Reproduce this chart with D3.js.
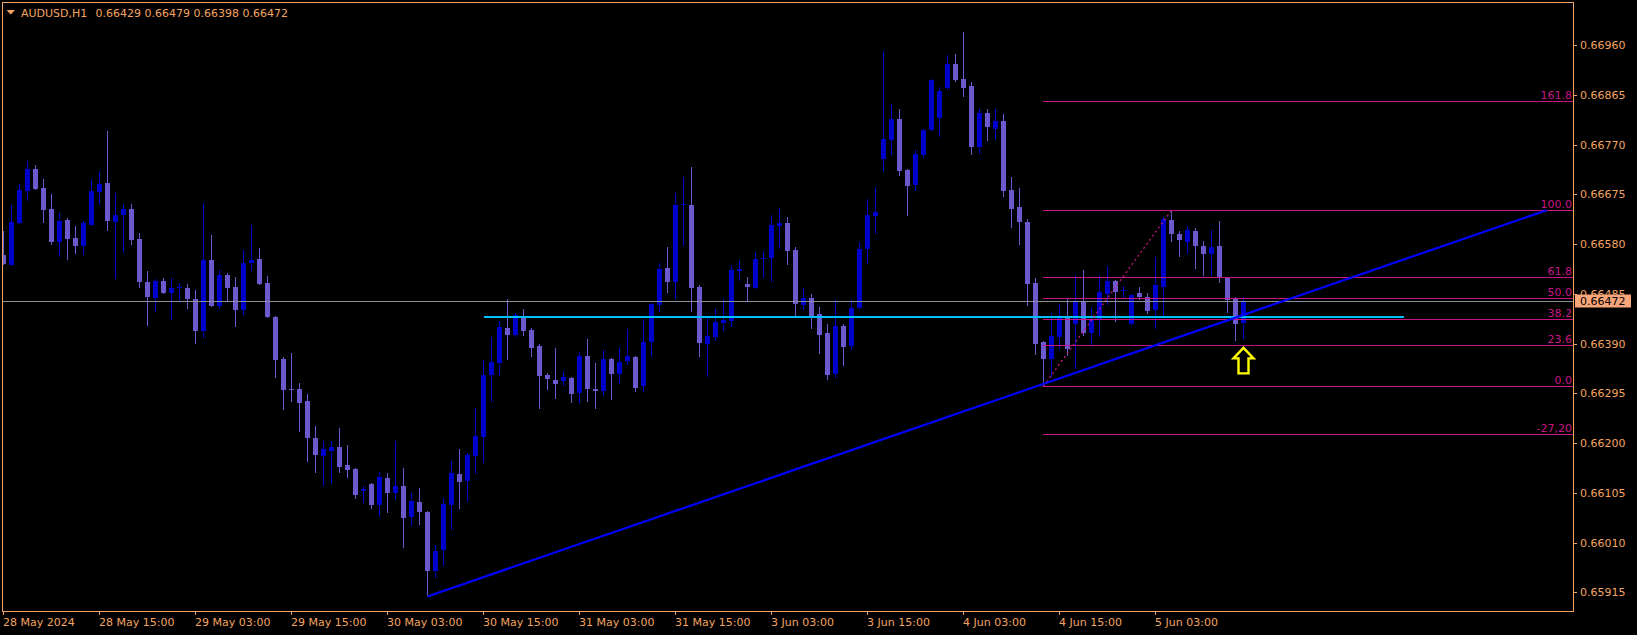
<!DOCTYPE html>
<html><head><meta charset="utf-8">
<script src="https://cdn.jsdelivr.net/npm/d3@7"></script>
<style>html,body{margin:0;padding:0;background:#000;overflow:hidden}</style>
</head><body><svg id="c" width="1637" height="635"></svg>
<script>
// ---------------- data ----------------
const symbolTitle = "AUDUSD,H1";
const lastOHLC = ["0.66429", "0.66479", "0.66398", "0.66472"];

const openP = [
0.66559,0.66540,0.66620,0.66682,0.66723,0.66687,0.66647,0.66584,0.66626,0.66592,
0.66577,0.66617,0.66680,0.66697,0.66623,0.66636,0.66647,0.66590,0.66508,0.66478,
0.66509,0.66487,0.66496,0.66496,0.66475,0.66415,0.66550,0.66461,0.66521,0.66498,
0.66455,0.66544,0.66552,0.66506,0.66441,0.66361,0.66304,0.66304,0.66281,0.66210,
0.66176,0.66185,0.66193,0.66158,0.66151,0.66109,0.66122,0.66082,0.66134,0.66105,
0.66118,0.66058,0.66088,0.66069,0.65956,0.65995,0.66082,0.66141,0.66128,0.66176,
0.66212,0.66330,0.66353,0.66420,0.66407,0.66443,0.66416,0.66386,0.66330,0.66321,
0.66319,0.66325,0.66295,0.66367,0.66304,0.66300,0.66361,0.66332,0.66356,0.66365,
0.66309,0.66393,0.66464,0.66535,0.66508,0.66654,0.66655,0.66498,0.66389,0.66403,
0.66430,0.66433,0.66529,0.66504,0.66496,0.66552,0.66554,0.66615,0.66621,0.66569,
0.66464,0.66477,0.66447,0.66410,0.66332,0.66424,0.66386,0.66458,0.66571,0.66634,
0.66743,0.66779,0.66819,0.66722,0.66693,0.66750,0.66798,0.66821,0.66878,0.66924,
0.66896,0.66882,0.66766,0.66831,0.66800,0.66815,0.66684,0.66651,0.66622,0.66506,
0.66393,0.66361,0.66403,0.66441,0.66428,0.66472,0.66410,0.66437,0.66485,0.66510,
0.66491,0.66428,0.66487,0.66479,0.66454,0.66498,0.66626,0.66600,0.66584,0.66605,
0.66577,0.66561,0.66577,0.66516,0.66475,0.66429];

const highP = [
0.66605,0.66654,0.66695,0.66739,0.66731,0.66705,0.66676,0.66639,0.66631,0.66615,
0.66624,0.66704,0.66720,0.66796,0.66677,0.66657,0.66657,0.66601,0.66528,0.66513,
0.66515,0.66516,0.66505,0.66504,0.66493,0.66658,0.66598,0.66531,0.66525,0.66517,
0.66569,0.66617,0.66572,0.66519,0.66442,0.66364,0.66372,0.66315,0.66294,0.66233,
0.66204,0.66204,0.66229,0.66197,0.66152,0.66118,0.66123,0.66145,0.66143,0.66204,
0.66153,0.66105,0.66114,0.66070,0.66006,0.66095,0.66165,0.66189,0.66182,0.66267,
0.66359,0.66403,0.66433,0.66475,0.66448,0.66456,0.66420,0.66389,0.66334,0.66381,
0.66338,0.66326,0.66374,0.66399,0.66353,0.66377,0.66363,0.66384,0.66418,0.66367,
0.66437,0.66467,0.66544,0.66575,0.66678,0.66708,0.66728,0.66502,0.66443,0.66456,
0.66475,0.66540,0.66550,0.66517,0.66565,0.66567,0.66636,0.66649,0.66632,0.66575,
0.66496,0.66485,0.66460,0.66428,0.66473,0.66428,0.66473,0.66584,0.66666,0.66689,
0.66949,0.66848,0.66838,0.66724,0.66760,0.66800,0.66896,0.66880,0.66941,0.66943,
0.66985,0.66890,0.66838,0.66838,0.66838,0.66829,0.66708,0.66687,0.66628,0.66516,
0.66395,0.66448,0.66466,0.66475,0.66521,0.66531,0.66460,0.66521,0.66538,0.66511,
0.66500,0.66484,0.66498,0.66487,0.66556,0.66632,0.66645,0.66605,0.66615,0.66611,
0.66586,0.66607,0.66624,0.66517,0.66479,0.66479];

const lowP = [
0.66540,0.66539,0.66619,0.66663,0.66684,0.66621,0.66579,0.66556,0.66550,0.66561,
0.66559,0.66614,0.66654,0.66606,0.66514,0.66563,0.66579,0.66497,0.66424,0.66451,
0.66485,0.66435,0.66470,0.66456,0.66389,0.66401,0.66460,0.66457,0.66470,0.66421,
0.66445,0.66529,0.66502,0.66439,0.66325,0.66263,0.66279,0.66221,0.66163,0.66143,
0.66119,0.66121,0.66143,0.66134,0.66093,0.66086,0.66074,0.66058,0.66067,0.66092,
0.66000,0.66042,0.66044,0.65907,0.65943,0.65966,0.66034,0.66074,0.66088,0.66141,
0.66162,0.66279,0.66329,0.66359,0.66403,0.66405,0.66365,0.66265,0.66302,0.66284,
0.66309,0.66277,0.66277,0.66279,0.66265,0.66290,0.66283,0.66312,0.66349,0.66298,
0.66298,0.66364,0.66451,0.66487,0.66475,0.66577,0.66451,0.66365,0.66326,0.66395,
0.66414,0.66421,0.66510,0.66472,0.66495,0.66516,0.66508,0.66571,0.66540,0.66443,
0.66454,0.66418,0.66370,0.66321,0.66324,0.66348,0.66377,0.66457,0.66542,0.66600,
0.66717,0.66750,0.66711,0.66634,0.66682,0.66745,0.66797,0.66785,0.66875,0.66890,
0.66861,0.66750,0.66753,0.66777,0.66779,0.66670,0.66611,0.66579,0.66462,0.66368,
0.66308,0.66327,0.66380,0.66367,0.66342,0.66405,0.66388,0.66403,0.66464,0.66431,
0.66477,0.66426,0.66474,0.66447,0.66418,0.66439,0.66584,0.66556,0.66561,0.66533,
0.66519,0.66519,0.66506,0.66449,0.66395,0.66398];

const closeP = [
0.66542,0.66622,0.66684,0.66723,0.66686,0.66646,0.66584,0.66624,0.66590,0.66577,
0.66621,0.66682,0.66695,0.66624,0.66635,0.66647,0.66588,0.66508,0.66479,0.66509,
0.66486,0.66496,0.66498,0.66475,0.66415,0.66550,0.66462,0.66521,0.66497,0.66454,
0.66544,0.66550,0.66504,0.66440,0.66359,0.66302,0.66302,0.66277,0.66210,0.66177,
0.66188,0.66193,0.66155,0.66149,0.66100,0.66113,0.66082,0.66135,0.66105,0.66118,
0.66057,0.66089,0.66069,0.65956,0.65994,0.66084,0.66143,0.66126,0.66177,0.66214,
0.66330,0.66355,0.66422,0.66407,0.66444,0.66414,0.66382,0.66328,0.66323,0.66313,
0.66326,0.66294,0.66367,0.66304,0.66300,0.66361,0.66332,0.66355,0.66367,0.66305,
0.66393,0.66466,0.66533,0.66508,0.66655,0.66657,0.66496,0.66391,0.66405,0.66431,
0.66435,0.66531,0.66533,0.66498,0.66552,0.66554,0.66617,0.66621,0.66567,0.66466,
0.66477,0.66443,0.66407,0.66330,0.66424,0.66384,0.66458,0.66571,0.66636,0.66642,
0.66781,0.66819,0.66720,0.66691,0.66752,0.66798,0.66894,0.66873,0.66924,0.66894,
0.66878,0.66766,0.66831,0.66804,0.66815,0.66682,0.66647,0.66622,0.66504,0.66389,
0.66361,0.66405,0.66441,0.66380,0.66470,0.66410,0.66437,0.66489,0.66510,0.66489,
0.66493,0.66483,0.66479,0.66452,0.66502,0.66628,0.66600,0.66588,0.66607,0.66577,
0.66561,0.66575,0.66516,0.66474,0.66428,0.66472];

const timeTickIdx = [0,12,24,36,48,60,72,84,96,108,120,132,144];
const timeTickLabels = ["28 May 2024","28 May 15:00","29 May 03:00","29 May 15:00","30 May 03:00",
  "30 May 15:00","31 May 03:00","31 May 15:00","3 Jun 03:00","3 Jun 15:00","4 Jun 03:00",
  "4 Jun 15:00","5 Jun 03:00"];
const priceTicks = [0.65915,0.66010,0.66105,0.66200,0.66295,0.66390,0.66485,0.66580,0.66675,0.66770,0.66865,0.66960];
const currentPrice = 0.66472;

const fibLevels = [161.8, 100, 61.8, 50, 38.2, 23.6, 0, -27.2];
const fibLabels = ["161.8","100.0","61.8","50.0","38.2","23.6","0.0","-27,20"];
const fibAnchorIdx = [130, 146];
const fibAnchorPrice = [0.66309, 0.66645];

const trendIdx = [53, 192.9];
const trendPrice = [0.65907, 0.66645];

const hlineIdx = [60, 175];
const hlinePrice = 0.66442;

const arrowIdx = 155;
const arrowPrice = 0.66382;

// ---------------- drawing ----------------
const W = 1637, H = 635;
const fL = 2.5, fT = 2.5, fR = 1573.5, fB = 611.5;
const ORANGE = "#f4a460", FIB = "#c71585", BULL = "#0000cd", BEAR = "#6a5acd";
const FONT = "DejaVu Sans";

const svg = d3.select("#c");
svg.append("rect").attr("width", W).attr("height", H).attr("fill", "#000");

const y = d3.scaleLinear().domain([0.65915, 0.66960]).range([592.3, 45.3]);
const x = d3.scaleLinear().domain([0, 155]).range([3.5, 1243.5]);
const snap = v => Math.round(v) + 0.5;

svg.append("defs").append("clipPath").attr("id", "plot")
  .append("rect").attr("x", 3).attr("y", 3).attr("width", fR - 3.5).attr("height", fB - 3.5);

const plot = svg.append("g").attr("clip-path", "url(#plot)");

const bars = d3.range(openP.length).map(i => ({
  i, o: openP[i], h: highP[i], l: lowP[i], c: closeP[i]
}));

const cg = plot.append("g").attr("shape-rendering", "crispEdges");
bars.forEach(d => {
  const col = d.c >= d.o ? BULL : BEAR;
  const cx = x(d.i);
  const yh = Math.round(y(d.h)), yl = Math.round(y(d.l));
  cg.append("rect").attr("x", cx - 0.5).attr("y", yh).attr("width", 1)
    .attr("height", Math.max(1, yl - yh)).attr("fill", col);
  const yt = Math.round(y(Math.max(d.o, d.c))), yb = Math.round(y(Math.min(d.o, d.c)));
  cg.append("rect").attr("x", cx - 2.5).attr("y", yt).attr("width", 5)
    .attr("height", Math.max(1, yb - yt)).attr("fill", col);
});

// current price (bid) line
plot.append("line").attr("x1", fL).attr("x2", fR)
  .attr("y1", snap(y(currentPrice))).attr("y2", snap(y(currentPrice)))
  .attr("stroke", "#8a8f99").attr("stroke-width", 1).attr("shape-rendering", "crispEdges");

// cyan horizontal level
plot.append("line").attr("x1", x(hlineIdx[0])).attr("x2", x(hlineIdx[1]))
  .attr("y1", Math.round(y(hlinePrice)) + 0.5).attr("y2", Math.round(y(hlinePrice)) + 0.5)
  .attr("stroke", "#00bfff").attr("stroke-width", 2).attr("shape-rendering", "crispEdges");

// fibonacci
const p0 = fibAnchorPrice[0], p100 = fibAnchorPrice[1];
fibLevels.forEach((lv, k) => {
  const py = snap(y(p0 + (p100 - p0) * lv / 100));
  plot.append("line").attr("x1", x(fibAnchorIdx[0]) - 0.5).attr("x2", fR)
    .attr("y1", py).attr("y2", py).attr("stroke", FIB).attr("stroke-width", 1)
    .attr("shape-rendering", "crispEdges");
  plot.append("text").attr("x", fR - 1.5).attr("y", py - 2.5)
    .attr("text-anchor", "end").attr("fill", FIB)
    .attr("font-family", FONT).attr("font-size", 11).text(fibLabels[k]);
});
plot.append("line")
  .attr("x1", x(fibAnchorIdx[0])).attr("y1", y(fibAnchorPrice[0]))
  .attr("x2", x(fibAnchorIdx[1])).attr("y2", y(fibAnchorPrice[1]))
  .attr("stroke", FIB).attr("stroke-width", 1.3).attr("stroke-dasharray", "2,3");

// trend line
plot.append("line")
  .attr("x1", x(trendIdx[0])).attr("y1", y(trendPrice[0]))
  .attr("x2", x(trendIdx[1])).attr("y2", y(trendPrice[1]))
  .attr("stroke", "#0000ff").attr("stroke-width", 2.2);

// arrow marker
const ax = x(arrowIdx), ay = y(arrowPrice);
const arrowPath = d3.path();
arrowPath.moveTo(ax, ay);
arrowPath.lineTo(ax + 10, ay + 10.5);
arrowPath.lineTo(ax + 5, ay + 10.5);
arrowPath.lineTo(ax + 5, ay + 25.5);
arrowPath.lineTo(ax - 5, ay + 25.5);
arrowPath.lineTo(ax - 5, ay + 10.5);
arrowPath.lineTo(ax - 10, ay + 10.5);
arrowPath.closePath();
plot.append("path").attr("d", arrowPath.toString()).attr("fill", "none")
  .attr("stroke", "#ffff00").attr("stroke-width", 2.4).attr("stroke-linejoin", "miter");

// frame
svg.append("rect").attr("x", fL).attr("y", fT).attr("width", fR - fL).attr("height", fB - fT)
  .attr("fill", "none").attr("stroke", ORANGE).attr("stroke-width", 1)
  .attr("shape-rendering", "crispEdges");

// price axis
const pa = svg.append("g");
priceTicks.forEach(p => {
  const py = snap(y(p));
  pa.append("line").attr("x1", fR).attr("x2", fR + 3).attr("y1", py).attr("y2", py)
    .attr("stroke", ORANGE).attr("shape-rendering", "crispEdges");
  pa.append("text").attr("x", 1580).attr("y", y(p) + 4).attr("fill", ORANGE)
    .attr("font-family", FONT).attr("font-size", 11).text(d3.format(".5f")(p));
});
const cy = y(currentPrice);
pa.append("rect").attr("x", 1575).attr("y", Math.round(cy) - 6.5).attr("width", 56).attr("height", 13)
  .attr("fill", "#f8a57a");
pa.append("text").attr("x", 1580).attr("y", cy + 4).attr("fill", "#000")
  .attr("font-family", FONT).attr("font-size", 11).text(d3.format(".5f")(currentPrice));

// time axis
const ta = svg.append("g");
timeTickIdx.forEach((idx, k) => {
  const tx = Math.floor(x(idx)) + 0.5;
  ta.append("line").attr("x1", tx).attr("x2", tx).attr("y1", fB).attr("y2", fB + 3)
    .attr("stroke", ORANGE).attr("shape-rendering", "crispEdges");
  ta.append("text").attr("x", tx - 0.5).attr("y", 626).attr("fill", ORANGE)
    .attr("font-family", FONT).attr("font-size", 11).text(timeTickLabels[k]);
});

// title
svg.append("path").attr("d", "M6.5,10 L15,10 L10.75,14.5 Z").attr("fill", ORANGE);
svg.append("text").attr("x", 21).attr("y", 17).attr("fill", ORANGE)
  .attr("font-family", FONT).attr("font-size", 11).text(symbolTitle);
svg.append("text").attr("x", 95.5).attr("y", 17).attr("fill", ORANGE)
  .attr("font-family", FONT).attr("font-size", 11).text(lastOHLC.join(" "));
</script>
</body></html>
